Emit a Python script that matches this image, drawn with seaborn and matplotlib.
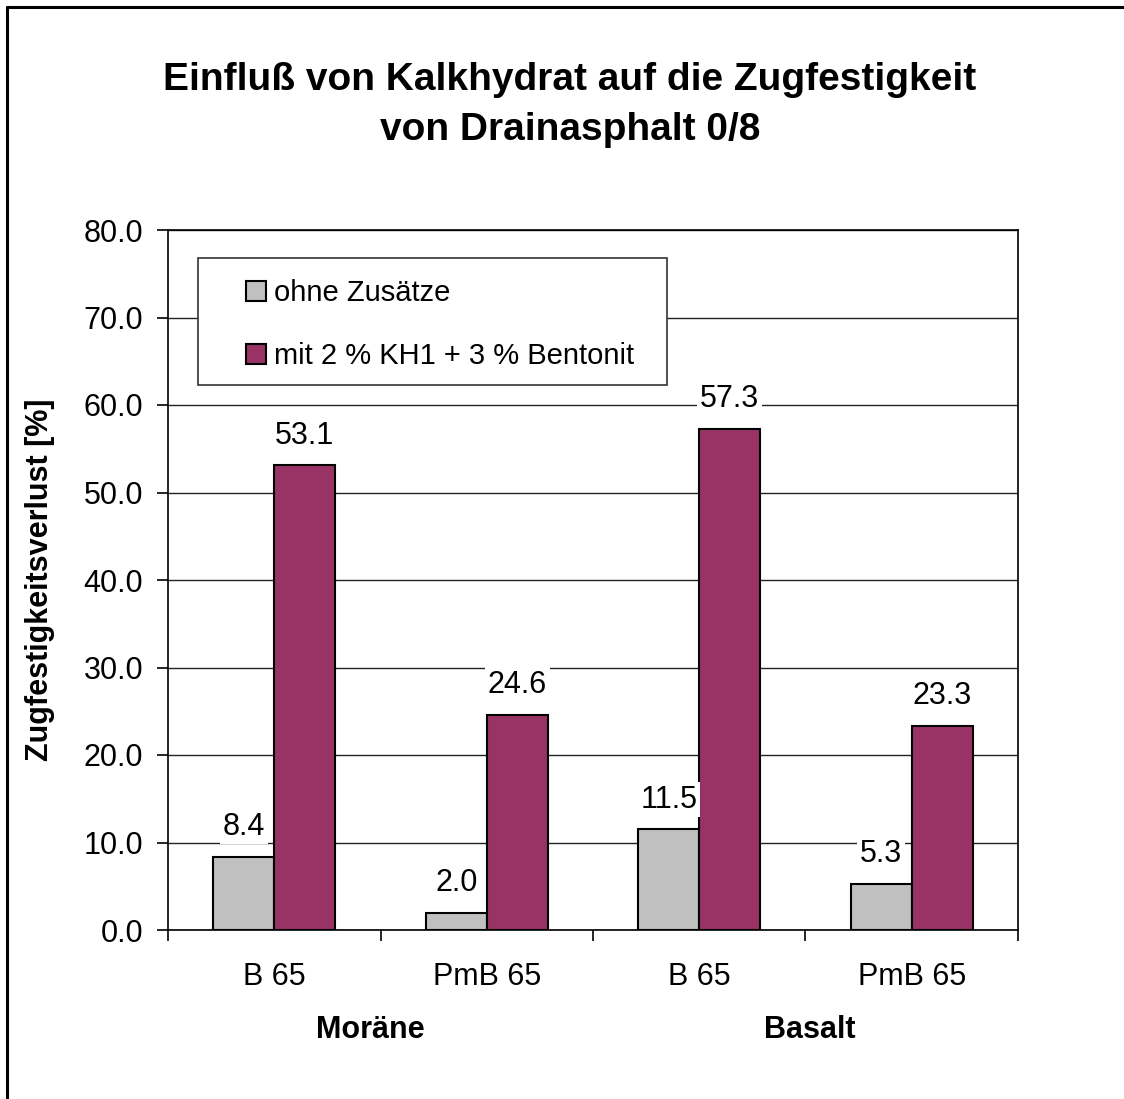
import pandas as pd
import numpy as np
import matplotlib
matplotlib.use('Agg')
import matplotlib.pyplot as plt
from matplotlib.lines import Line2D
from matplotlib.patches import Rectangle
import matplotlib.transforms as mtransforms
import seaborn as sns

# data
groups = ['Moräne', 'Moräne', 'Basalt', 'Basalt']
binders = ['B 65', 'PmB 65', 'B 65', 'PmB 65']
ohne = [8.4, 2.0, 11.5, 5.3]
mit = [53.1, 24.6, 57.3, 23.3]
series = ['ohne Zusätze', 'mit 2 % KH1 + 3 % Bentonit']
colors = ['#C0C0C0', '#993366']
yticks = [0, 10, 20, 30, 40, 50, 60, 70, 80]

cats = [g + ' ' + b for g, b in zip(groups, binders)]
df = pd.DataFrame({
    'cat': cats * 2,
    'wert': ohne + mit,
    'serie': [series[0]] * 4 + [series[1]] * 4,
})

sns.set_style('white')
plt.rcParams['font.family'] = ['Liberation Sans', 'DejaVu Sans']
plt.rcParams['text.color'] = 'black'
plt.rcParams['axes.labelcolor'] = 'black'
plt.rcParams['xtick.color'] = 'black'
plt.rcParams['ytick.color'] = 'black'

FS = 22
W, H = 1124, 1099
fig = plt.figure(figsize=(W / 100, H / 100), dpi=100)
ax = fig.add_axes([168 / W, 1 - 930 / H, 850 / W, 700 / H])

sns.barplot(data=df, x='cat', y='wert', hue='serie', order=cats, hue_order=series,
            palette=colors, width=0.574, gap=0, edgecolor='black', linewidth=1.5,
            saturation=1, ax=ax, zorder=2)

ax.set_xlim(-0.5, 3.5)
ax.set_ylim(0, 80)
ax.set_yticks(yticks)
ax.set_yticklabels(['%.1f' % v for v in yticks])
ax.yaxis.grid(True, color='#222222', linewidth=1)
ax.set_axisbelow(True)
for s in ax.spines.values():
    s.set_color('black')
    s.set_linewidth(1.2)

ax.tick_params(axis='y', labelsize=FS, length=8, width=1.2, direction='out', pad=10, left=True)
ax.set_xticks(range(4))
ax.set_xticklabels(binders)
ax.set_xticks([-0.5, 0.5, 1.5, 2.5, 3.5], minor=True)
ax.tick_params(axis='x', which='major', labelsize=FS, length=0, pad=23)
ax.tick_params(axis='x', which='minor', length=8, width=1.2, direction='out', bottom=True)
ax.set_xlabel('')
ax.set_ylabel('Zugfestigkeitsverlust [%]', fontsize=FS, fontweight='bold')
ax.yaxis.set_label_coords(-0.133, 0.5)

# value labels
for cont in ax.containers:
    for bar in cont:
        h = bar.get_height()
        ax.annotate('%.1f' % h, (bar.get_x() + bar.get_width() / 2, h),
                    xytext=(0, 21.5), textcoords='offset points', ha='center', va='center',
                    fontsize=FS, zorder=5,
                    bbox=dict(facecolor='white', edgecolor='none', pad=2))

# group labels
trans = mtransforms.blended_transform_factory(ax.transData, ax.transAxes)
for x, g in [(0.45, 'Moräne'), (2.52, 'Basalt')]:
    ax.text(x, -0.143, g, transform=trans, ha='center', va='center',
            fontsize=FS, fontweight='bold')

# legend with Excel-like frame
handles, labels = ax.get_legend_handles_labels()
if ax.legend_:
    ax.legend_.remove()
frame = Rectangle((30 / 850, (930 - 385) / 700), (667 - 198) / 850, 127 / 700,
                  transform=ax.transAxes, facecolor='white', edgecolor='#333333',
                  linewidth=1.2, zorder=4, clip_on=False)
ax.add_patch(frame)
leg = ax.legend(handles, labels, loc='upper left', bbox_to_anchor=((246 - 168) / 850, 0.93),
                frameon=False, fontsize=21, borderpad=0, borderaxespad=0,
                handlelength=0.7, handleheight=0.7, handletextpad=0.25, labelspacing=1.2)
leg.set_zorder(6)

# title
fig.text(570 / W, 1 - 80 / H, 'Einfluß von Kalkhydrat auf die Zugfestigkeit',
         ha='center', va='center', fontsize=28, fontweight='bold')
fig.text(570 / W, 1 - 130 / H, 'von Drainasphalt 0/8',
         ha='center', va='center', fontsize=28, fontweight='bold')

# outer chart border (runs off right and bottom)
fig.add_artist(Line2D([7 / W, 7 / W], [1 - 7 / H, 0], color='black', linewidth=2.2))
fig.add_artist(Line2D([7 / W, 1], [1 - 7 / H, 1 - 7 / H], color='black', linewidth=2.2))

fig.savefig('out.png', dpi=100)
